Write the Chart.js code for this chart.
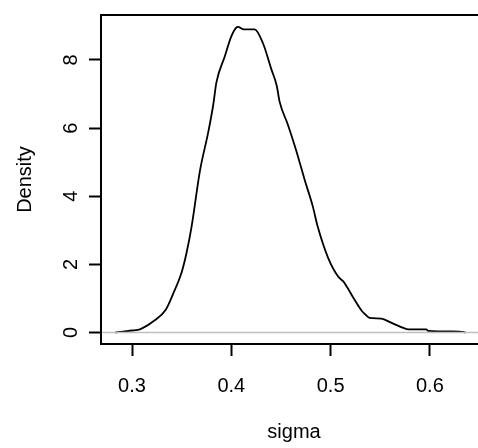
<!DOCTYPE html>
<html>
<head>
<meta charset="utf-8">
<script src="https://cdn.jsdelivr.net/npm/chart.js@4/dist/chart.umd.min.js"></script>
<style>
  body { margin: 0; background: #fff; overflow: hidden; }
  #wrap { width: 478px; height: 448px; overflow: hidden; }
</style>
</head>
<body>
<div id="wrap"><canvas id="densityChart" width="478" height="448"></canvas></div>
<script>
// values
const sigmaValues = [0.283, 0.291, 0.300, 0.308, 0.3215, 0.334, 0.3416, 0.350, 0.355, 0.360,
    0.3685, 0.377, 0.3819, 0.385, 0.3935, 0.400, 0.405, 0.4068, 0.412, 0.4235,
    0.4319, 0.4403, 0.4457, 0.4487, 0.457, 0.4655, 0.474, 0.482, 0.487, 0.4974,
    0.5074, 0.5128, 0.5175, 0.5229, 0.5313, 0.5343, 0.5393, 0.551, 0.561, 0.5746,
    0.578, 0.5964, 0.598, 0.630, 0.636];
const densityValues = [0, 0.03, 0.06, 0.095, 0.33, 0.67, 1.15, 1.77, 2.35, 3.11,
    4.76, 5.91, 6.70, 7.34, 8.11, 8.69, 8.95, 8.97, 8.90, 8.90,
    8.49, 7.73, 7.25, 6.77, 6.10, 5.33, 4.47, 3.71, 3.11, 2.20,
    1.65, 1.50, 1.29, 1.02, 0.64, 0.55, 0.43, 0.41, 0.29, 0.12,
    0.095, 0.095, 0.05, 0.03, 0];
const xTicks = [0.3, 0.4, 0.5, 0.6];
const yTicks = [0, 2, 4, 6, 8];

// the R plot region runs a few pixels past the right edge of the picture
const overhang = 9;
const labelFont = "20px 'Liberation Sans', Arial, sans-serif";

Chart.defaults.font.family = "'Liberation Sans', Arial, sans-serif";
Chart.defaults.font.size = 20;
Chart.defaults.color = '#000';

// box, gray zero line, rotated y labels and x title like base R
const rFrame = {
    id: 'rFrame',
    afterDatasetsDraw(chart) {
        const ctx = chart.ctx;
        const area = chart.chartArea;
        const y = chart.scales.y;
        const y0 = y.getPixelForValue(0);
        const right = area.right + overhang;
        ctx.save();
        ctx.strokeStyle = '#bebebe';
        ctx.lineWidth = 1.5;
        ctx.beginPath();
        ctx.moveTo(area.left, y0);
        ctx.lineTo(right, y0);
        ctx.stroke();

        ctx.strokeStyle = '#000';
        ctx.lineWidth = 2;
        ctx.strokeRect(area.left, area.top, right - area.left, area.bottom - area.top);

        ctx.fillStyle = '#000';
        ctx.font = labelFont;
        ctx.textAlign = 'center';
        ctx.textBaseline = 'middle';
        yTicks.forEach(v => {
            ctx.save();
            ctx.translate(71, y.getPixelForValue(v));
            ctx.rotate(-Math.PI / 2);
            ctx.fillText(String(v), 0, 0);
            ctx.restore();
        });
        ctx.fillText('sigma', (area.left + right) / 2, 432);
        ctx.restore();
    }
};

const ctx = document.getElementById('densityChart').getContext('2d');
const densityChart = new Chart(ctx, {
    type: 'line',
    data: {
        datasets: [{
            data: sigmaValues.map((s, i) => ({ x: s, y: densityValues[i] })),
            borderColor: '#000',
            borderWidth: 1.8,
            pointRadius: 0,
            cubicInterpolationMode: 'monotone',
            fill: false
        }]
    },
    options: {
        responsive: false,
        animation: false,
        layout: { padding: { top: 8, right: 0, left: 0, bottom: 0 } },
        plugins: { legend: { display: false }, tooltip: { enabled: false } },
        scales: {
            x: {
                type: 'linear',
                min: 0.26878,
                max: 0.64844,
                afterBuildTicks: s => { s.ticks = xTicks.map(v => ({ value: v })); },
                afterFit: s => { s.height = 104; },
                grid: { drawOnChartArea: false, tickLength: 12, tickColor: '#000', tickWidth: 2 },
                border: { display: false },
                ticks: { padding: 18, maxRotation: 0, autoSkip: false, callback: v => v.toFixed(1) },
                title: { display: false, text: 'sigma' }
            },
            y: {
                min: -0.336,
                max: 9.319,
                afterBuildTicks: s => { s.ticks = yTicks.map(v => ({ value: v })); },
                afterFit: s => { s.width = 101; },
                grid: { drawOnChartArea: false, tickLength: 12, tickColor: '#000', tickWidth: 2 },
                border: { display: false },
                ticks: { color: 'rgba(0,0,0,0)' },
                title: { display: true, text: 'Density', padding: { top: 13, bottom: 0 } }
            }
        }
    },
    plugins: [rFrame]
});
</script>
</body>
</html>
